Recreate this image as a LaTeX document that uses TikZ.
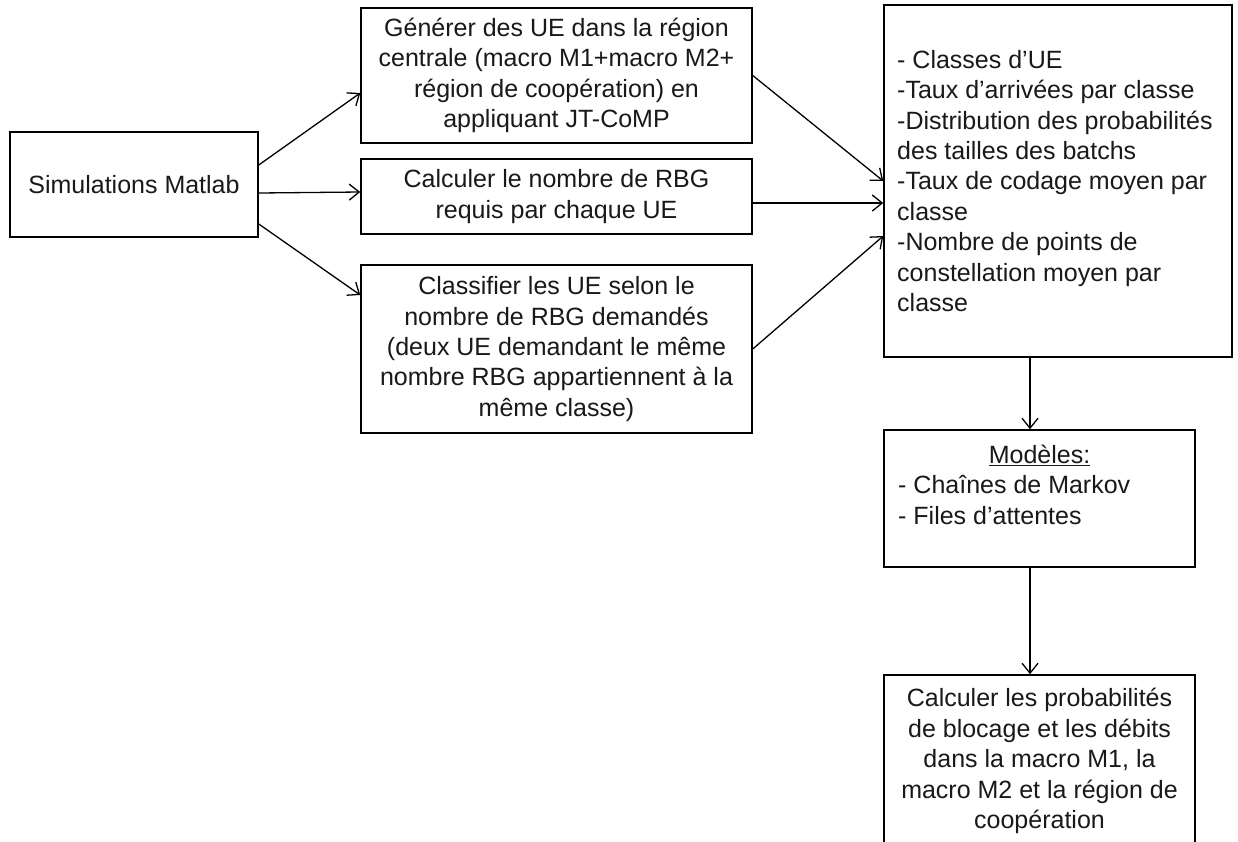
\documentclass[tikz,border=0pt]{standalone}
\usepackage{fontspec}
\setmainfont{Liberation Sans}
\usetikzlibrary{arrows.meta}
\tikzset{
  box/.style={draw=black, line width=1.5pt, inner sep=0pt, align=center,
    font=\fontsize{25}{30.4}\selectfont, text=black!90},
  txt/.style={inner sep=0pt, font=\fontsize{25}{30.4}\selectfont, text=black!90},
  conn/.style={line width=1.3pt, -{Straight Barb[length=10pt,width=16pt,line width=1.3pt]}},
}
\begin{document}
\begin{tikzpicture}[x=1pt,y=-1pt]
\useasboundingbox (0,0) rectangle (1238,841);
\clip (0,0) rectangle (1238,841);
\fill[white] (0,0) rectangle (1238,841);

\node[box, minimum width=248pt, minimum height=105pt] (sim) at (134,184.5) {Simulations Matlab};
\node[box, minimum width=391pt, minimum height=135pt] (gen) at (556.5,75.5)
  {Générer des UE dans la région\\centrale (macro M1+macro M2+\\région de coopération) en\\appliquant JT-CoMP};
\node[box, minimum width=391pt, minimum height=75pt] (calc) at (556.5,196.5)
  {Calculer le nombre de RBG\\requis par chaque UE};
\node[box, minimum width=391pt, minimum height=168pt] (cls) at (556.5,349)
  {Classifier les UE selon le\\nombre de RBG demandés\\(deux UE demandant le même\\nombre RBG appartiennent à la\\même classe)};
\node[box, minimum width=348pt, minimum height=352pt] (par) at (1058,181) {};
\node[txt, anchor=west, align=left] (partxt) at (897,181)
  {- Classes d’UE\\-Taux d’arrivées par classe\\-Distribution des probabilités\\des tailles des batchs\\-Taux de codage moyen par\\classe\\-Nombre de points de\\constellation moyen par\\classe};
\node[box, minimum width=311pt, minimum height=137pt] (mod) at (1039.5,498.5) {};
\node[txt] (modtitle) at (1039.5,455) {\underline{Modèles:}};
\node[txt, anchor=west, align=left] (modlist) at (898,500)
  {- Chaînes de Markov\\- Files d’attentes};
\node[box, minimum width=311pt, minimum height=172pt] (res) at (1039.5,761)
  {Calculer les probabilités\\de blocage et les débits\\dans la macro M1, la\\macro M2 et la région de\\coopération};

\draw[conn] ([yshift=19.5pt]sim.east) -- ([yshift=-17.5pt]gen.west);
\draw[conn] ([yshift=-8.5pt]sim.east) -- ([yshift=4.5pt]calc.west);
\draw[conn] ([yshift=-39.5pt]sim.east) -- ([yshift=54pt]cls.west);
\draw[conn] (gen.east) -- (par.west);
\draw[conn] ([yshift=-6.5pt]calc.east) -- ([yshift=-22pt]par.west);
\draw[conn] (cls.east) -- ([yshift=-55pt]par.west);
\draw[conn] ([xshift=-28pt]par.south) -- ([xshift=-28pt]par.south |- mod.north);
\draw[conn] ([xshift=-9.5pt]mod.south) -- ([xshift=-9.5pt]mod.south |- res.north);
\end{tikzpicture}
\end{document}
